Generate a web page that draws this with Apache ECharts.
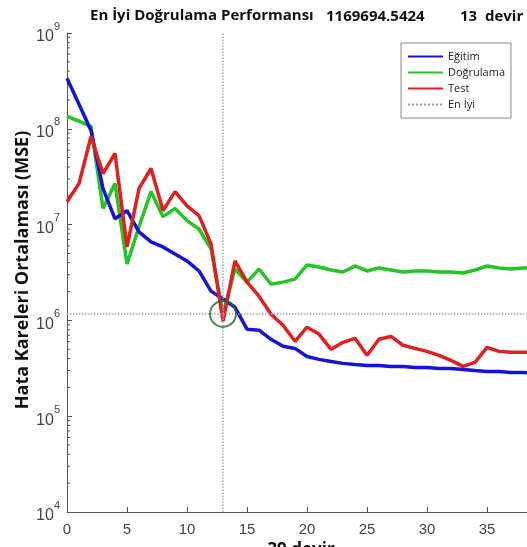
<!DOCTYPE html>
<html>
<head>
<meta charset="utf-8">
<script src="https://cdn.jsdelivr.net/npm/echarts@6/dist/echarts.min.js"></script>
<style>
  html, body { margin: 0; padding: 0; background: #fff; }
  #chart { width: 527px; height: 547px; }
</style>
</head>
<body>
<div id="chart"></div>
<script>
// epochs 0..39 (the right side of the plot is cropped in the picture)
const epochs = [0, 1, 2, 3, 4, 5, 6, 7, 8, 9, 10, 11, 12, 13, 14, 15, 16, 17, 18, 19,
  20, 21, 22, 23, 24, 25, 26, 27, 28, 29, 30, 31, 32, 33, 34, 35, 36, 37, 38, 39];

const egitim = [3.37e8, 1.8e8, 9.6e7, 2.37e7, 1.15e7, 1.4e7, 8.4e6, 6.6e6, 5.85e6, 4.94e6,
  4.18e6, 3.28e6, 2.02e6, 1.67e6, 1.37e6, 8.1e5, 7.9e5, 6.35e5, 5.37e5, 5.1e5,
  4.2e5, 3.92e5, 3.73e5, 3.56e5, 3.47e5, 3.39e5, 3.39e5, 3.31e5, 3.31e5, 3.23e5,
  3.23e5, 3.15e5, 3.15e5, 3.08e5, 3.0e5, 2.93e5, 2.93e5, 2.86e5, 2.86e5, 2.8e5];

const dogrulama = [1.35e8, 1.2e8, 1.06e8, 1.47e7, 2.68e7, 3.88e6, 9.5e6, 2.21e7, 1.21e7, 1.47e7,
  1.1e7, 9.0e6, 5.57e6, 1169694.5424, 3.44e6, 2.51e6, 3.44e6, 2.39e6, 2.51e6, 2.7e6,
  3.79e6, 3.61e6, 3.36e6, 3.2e6, 3.7e6, 3.28e6, 3.53e6, 3.36e6, 3.2e6, 3.28e6,
  3.28e6, 3.2e6, 3.2e6, 3.13e6, 3.36e6, 3.7e6, 3.53e6, 3.44e6, 3.53e6, 3.53e6];

const test = [1.73e7, 2.68e7, 8.3e7, 3.41e7, 5.52e7, 5.85e6, 2.37e7, 3.85e7, 1.4e7, 2.21e7,
  1.57e7, 1.24e7, 6.3e6, 9.8e5, 4.18e6, 2.51e6, 1.79e6, 1.16e6, 8.9e5, 6.05e5,
  8.5e5, 7.2e5, 4.99e5, 5.9e5, 6.5e5, 4.32e5, 6.35e5, 6.8e5, 5.5e5, 5.1e5,
  4.75e5, 4.32e5, 3.83e5, 3.31e5, 3.65e5, 5.24e5, 4.75e5, 4.64e5, 4.64e5, 4.64e5];

const bestEpoch = 13;
const bestPerf = 1169694.5424;

const xTicks = [0, 5, 10, 15, 20, 25, 30, 35];
const yTicks = [1e4, 1e5, 1e6, 1e7, 1e8, 1e9];
const minorMultipliers = [2, 3, 4, 5, 6, 7, 8, 9];

const pairs = arr => arr.map((v, i) => [epochs[i], v]);

// minor tick positions of the log axis (2..9 in each decade)
const minorTicks = [];
yTicks.slice(0, -1).forEach(d => minorMultipliers.forEach(m => minorTicks.push([0, d * m])));

const chart = echarts.init(document.getElementById('chart'), null, { renderer: 'canvas' });

const axisColor = '#555';
const labelColor = '#444';
const titleFont = 'bold 15px "Open Sans", sans-serif';

chart.setOption({
  animation: false,
  backgroundColor: '#fff',
  grid: { left: 67, right: -8, top: 33, bottom: 35, outerBoundsMode: 'none', containLabel: false },
  graphic: [
    { type: 'text', left: 90, top: 8, style: { text: 'En İyi Doğrulama Performansı', font: titleFont, fill: '#111' } },
    { type: 'text', left: 326, top: 9, style: { text: '1169694.5424', font: titleFont, fill: '#111' } },
    { type: 'text', left: 460, top: 9, style: { text: '13  devir', font: titleFont, fill: '#111' } },
    {
      type: 'text', x: 23, y: 270, rotation: Math.PI / 2,
      style: {
        text: 'Hata Kareleri Ortalaması (MSE)', font: 'bold 18px "Open Sans", sans-serif',
        fill: '#111', align: 'center', verticalAlign: 'middle'
      }
    }
  ],
  legend: {
    data: ['Eğitim', 'Doğrulama', 'Test', 'En İyi'],
    orient: 'vertical',
    left: 401,
    top: 43,
    padding: [8, 6, 8, 6],
    itemGap: 5,
    itemWidth: 35,
    itemHeight: 13,
    itemStyle: { opacity: 0 },
    backgroundColor: '#fff',
    borderColor: '#888',
    borderWidth: 1,
    textStyle: { fontSize: 11, color: '#222', fontFamily: '"Open Sans", sans-serif' }
  },
  xAxis: {
    type: 'value',
    min: 0,
    max: 39,
    interval: 5,
    name: '39 devir',
    nameLocation: 'middle',
    nameGap: 27,
    nameTextStyle: { fontSize: 17, fontWeight: 'bold', color: '#111', fontFamily: '"Open Sans", sans-serif' },
    axisLine: { lineStyle: { color: axisColor } },
    axisTick: { inside: true, length: 5, lineStyle: { color: axisColor } },
    axisLabel: {
      fontSize: 15, color: labelColor, margin: 10, fontFamily: 'Liberation Sans, Arial, sans-serif',
      formatter: v => (xTicks.indexOf(v) >= 0 ? String(v) : '')
    },
    splitLine: { show: false }
  },
  yAxis: {
    type: 'log',
    logBase: 10,
    min: yTicks[0],
    max: yTicks[yTicks.length - 1],
    axisLine: { show: true, lineStyle: { color: axisColor } },
    axisTick: { show: true, inside: true, length: 5, lineStyle: { color: axisColor } },
    axisLabel: {
      margin: 7,
      formatter: v => '{b|10}{s|' + Math.round(Math.log10(v)) + '}',
      rich: {
        b: { fontSize: 16, color: labelColor, fontFamily: 'Liberation Sans, Arial, sans-serif', verticalAlign: 'bottom', lineHeight: 24 },
        s: { fontSize: 11, color: labelColor, fontFamily: 'Liberation Sans, Arial, sans-serif', verticalAlign: 'top', lineHeight: 24 }
      }
    },
    splitLine: { show: false }
  },
  series: [
    {
      name: 'minor', type: 'custom', data: minorTicks, silent: true, z: 1,
      renderItem: (params, api) => {
        const p = api.coord([0, api.value(1)]);
        return { type: 'line', shape: { x1: p[0], y1: p[1], x2: p[0] + 3, y2: p[1] }, style: { stroke: axisColor, lineWidth: 1 } };
      }
    },
    {
      name: 'Eğitim', type: 'line', data: pairs(egitim), symbol: 'none',
      lineStyle: { color: '#1414d8', width: 3.5 }, itemStyle: { color: '#1414d8' }, z: 3
    },
    {
      name: 'Doğrulama', type: 'line', data: pairs(dogrulama), symbol: 'none',
      lineStyle: { color: '#24c424', width: 3.5 }, itemStyle: { color: '#24c424' }, z: 2
    },
    {
      name: 'Test', type: 'line', data: pairs(test), symbol: 'none',
      lineStyle: { color: '#e02020', width: 3.5 }, itemStyle: { color: '#e02020' }, z: 4
    },
    {
      name: 'En İyi', type: 'line', data: [], symbol: 'none',
      lineStyle: { color: '#999', width: 1, type: 'dotted' }, itemStyle: { color: '#999' },
      markLine: {
        silent: true, symbol: 'none', label: { show: false },
        lineStyle: { color: '#aaa', width: 1.5, type: 'dotted' },
        data: [{ xAxis: bestEpoch }, { yAxis: bestPerf }]
      },
      z: 1
    },
    {
      name: 'best', type: 'scatter', data: [[bestEpoch, bestPerf]],
      symbol: 'circle', symbolSize: 26,
      itemStyle: { color: 'rgba(0,0,0,0)', borderColor: '#1f6e1f', borderWidth: 2 },
      z: 5, silent: true
    }
  ]
});
</script>
</body>
</html>
